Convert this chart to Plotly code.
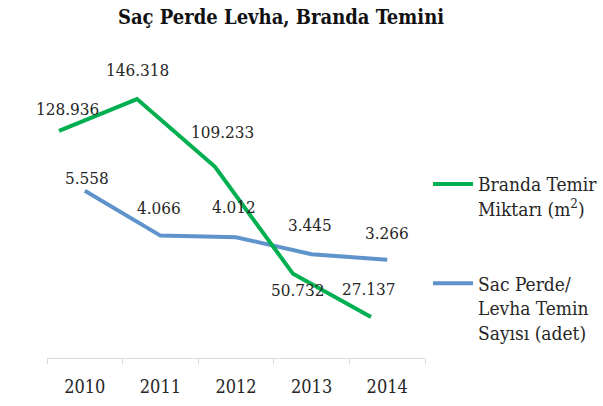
import plotly.graph_objects as go

# ---- data ----
years = ["2010", "2011", "2012", "2013", "2014"]
branda_m2 = [128936, 146318, 109233, 50732, 27137]      # Branda Temir Miktarı (m²)
sac_adet = [5558, 4066, 4012, 3445, 3266]               # Sac Perde/Levha Temin Sayısı (adet)

green_name = "Branda Temir<br>Miktarı (m<sup>2</sup>)"
blue_name = "Sac Perde/<br>Levha Temin<br>Sayısı (adet)"

# ---- styles / label offsets (pixels) ----
GREEN = "#00B050"
BLUE = "#5E93CB"
TXT = "#262626"
FONT = "DejaVu Serif Condensed, Liberation Serif, serif"
green_shift = [(8, 22), (0, 29), (7, 35), (5, -16), (-2, 28)]
blue_shift = [(2, 13), (-1, 28), (-2, 30), (-2, 29), (0, 27)]


def fmt(v):
    return f"{v:,}".replace(",", ".")


fig = go.Figure()
fig.add_trace(go.Scatter(
    x=years, y=branda_m2, mode="lines", name=green_name,
    xaxis="x2", yaxis="y2", legendgroup="g1",
    line=dict(color=GREEN, width=4),
))
fig.add_trace(go.Scatter(
    x=years, y=sac_adet, mode="lines", name=blue_name,
    xaxis="x", yaxis="y", legendgroup="g2",
    line=dict(color=BLUE, width=4),
))

annotations = []
for i, (v, (dx, dy)) in enumerate(zip(branda_m2, green_shift)):
    annotations.append(dict(x=i, y=v, xref="x2", yref="y2", text=fmt(v),
                            showarrow=False, xanchor="center", yanchor="middle",
                            xshift=dx, yshift=dy, font=dict(size=17, color=TXT, family=FONT)))
for i, (v, (dx, dy)) in enumerate(zip(sac_adet, blue_shift)):
    annotations.append(dict(x=i, y=v, xref="x", yref="y", text=fmt(v),
                            showarrow=False, xanchor="center", yanchor="middle",
                            xshift=dx, yshift=dy, font=dict(size=17, color=TXT, family=FONT)))

fig.update_layout(
    width=603, height=406,
    margin=dict(l=47, r=178, t=57, b=48, autoexpand=False),
    paper_bgcolor="white", plot_bgcolor="white",
    font=dict(family=FONT, color=TXT, size=18),
    title=dict(text="<b>Saç Perde Levha, Branda Temini</b>", x=281 / 603, xanchor="center",
               y=1 - 17 / 406, yanchor="middle", font=dict(size=20, color="#111111", family=FONT)),
    xaxis=dict(type="category", categoryorder="array", categoryarray=years, range=[-0.5, 4.5],
               showline=True, linecolor="#D9D9D9", linewidth=1, ticks="outside",
               tickson="boundaries", ticklen=5, tickcolor="#D9D9D9", showgrid=False,
               zeroline=False, ticklabelstandoff=12,
               tickfont=dict(size=18, color=TXT, family=FONT)),
    xaxis2=dict(type="category", categoryorder="array", categoryarray=years,
                range=[-0.1538, 4.692], overlaying="x", anchor="y2", visible=False),
    yaxis=dict(range=[0, 10000], visible=False),
    yaxis2=dict(range=[4700, 169300], overlaying="y", anchor="x2", visible=False),
    annotations=annotations,
    showlegend=True,
    legend=dict(x=1.008, xanchor="left", y=0.641, yanchor="top", valign="top",
                traceorder="grouped", tracegroupgap=47, itemwidth=40,
                font=dict(size=19, color=TXT, family=FONT), bgcolor="rgba(0,0,0,0)"),
)

fig.write_html("out.html", config={"displayModeBar": False},
               post_script="document.body.style.margin = '0';")
